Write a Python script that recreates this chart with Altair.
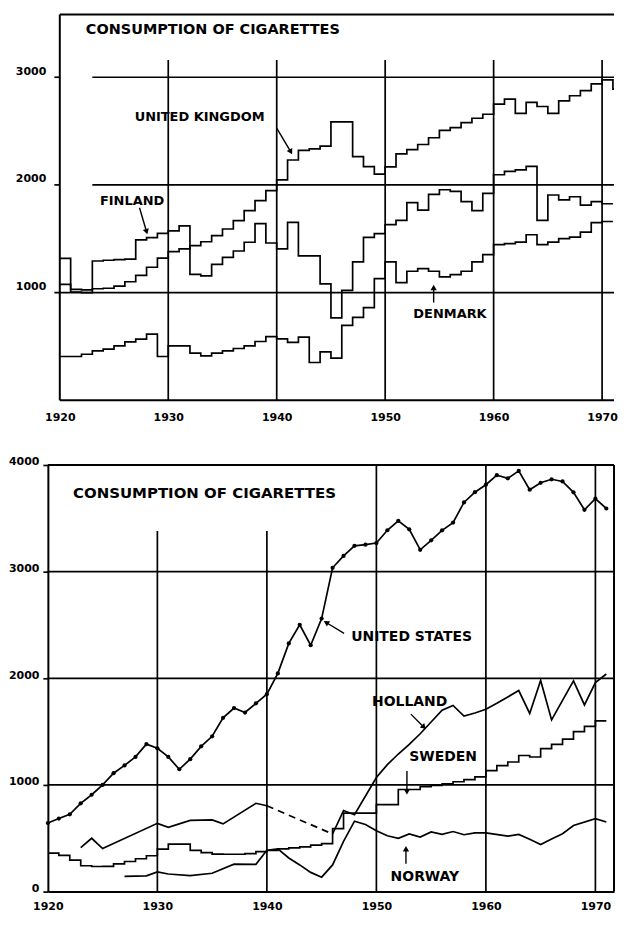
import altair as alt
import pandas as pd

FONT = "DejaVu Sans"
INK = "black"

# ======================= DATA =======================
# Top panel: stepped annual series starting 1920
uk_first_year = 1920
uk_values = [1075, 1005, 1000, 1035, 1040, 1060, 1100, 1160, 1235, 1320,
             1380, 1405, 1435, 1472, 1528, 1590, 1668, 1761, 1854, 1947,
             2046, 2231, 2320, 2335, 2360, 2585, 2585, 2262, 2170, 2100,
             2168, 2288, 2328, 2375, 2438, 2506, 2531, 2578, 2619, 2656,
             2750, 2797, 2665, 2766, 2728, 2665, 2781, 2828, 2875, 2938,
             2975, 2890]
finland_first_year = 1920
finland_values = [1317, 1030, 1025, 1293, 1300, 1305, 1310, 1489, 1511, 1550,
                  1573, 1620, 1168, 1155, 1262, 1327, 1386, 1467, 1640, 1460,
                  1406, 1652, 1340, 1340, 1080, 765, 1020, 1284, 1512, 1547,
                  1630, 1670, 1835, 1765, 1912, 1955, 1940, 1844, 1760, 1922,
                  2094, 2125, 2140, 2172, 1670, 1906, 1860, 1890, 1812, 1844,
                  1825]
denmark_first_year = 1920
denmark_values = [406, 406, 427, 458, 474, 505, 542, 567, 613, 406,
                  505, 505, 437, 412, 437, 458, 480, 505, 545, 590,
                  570, 538, 585, 350, 448, 390, 695, 770, 860, 1130,
                  1284, 1093, 1198, 1222, 1198, 1145, 1167, 1198, 1284, 1352,
                  1445, 1454, 1469, 1537, 1445, 1469, 1500, 1515, 1562, 1650,
                  1660]

# Bottom panel
us_years = list(range(1920, 1972))
us_values = [643, 685, 724, 828, 908, 1000, 1110, 1183, 1263, 1383,
             1344, 1263, 1147, 1242, 1362, 1456, 1629, 1721, 1679, 1765,
             1851, 2046, 2327, 2502, 2310, 2560, 3036, 3147, 3242, 3253,
             3268, 3388, 3477, 3397, 3205, 3294, 3387, 3460, 3649, 3745,
             3815, 3904, 3875, 3945, 3768, 3833, 3866, 3846, 3744, 3580,
             3684, 3592]
holland_years_prewar = [1923, 1924, 1925, 1930, 1931, 1933, 1935, 1936, 1939, 1940]
holland_values_prewar = [412, 500, 404, 640, 603, 668, 672, 635, 828, 805]
holland_years_postwar = [1946, 1947, 1948, 1950, 1951, 1952, 1953, 1954, 1955, 1956,
                         1957, 1958, 1959, 1960, 1961, 1962, 1963, 1964, 1965, 1966,
                         1968, 1969, 1970, 1971]
holland_values_postwar = [540, 760, 720, 1070, 1190, 1290, 1380, 1480, 1590, 1700,
                          1745, 1645, 1675, 1710, 1765, 1825, 1885, 1670, 1980, 1610,
                          1975, 1750, 1960, 2040]
sweden_first_year = 1920
sweden_values = [360, 340, 295, 242, 235, 237, 260, 282, 308, 336,
                 398, 445, 445, 387, 365, 352, 350, 350, 356, 375,
                 385, 400, 410, 420, 435, 450, 590, 735, 735, 735,
                 816, 816, 957, 957, 985, 995, 1010, 1030, 1050, 1075,
                 1134, 1181, 1215, 1276, 1262, 1340, 1380, 1430, 1500, 1550,
                 1600]
norway_years = [1927, 1929, 1930, 1931, 1933, 1935, 1937, 1939,
                1940, 1941, 1942, 1943, 1944, 1945, 1946, 1947, 1948, 1949,
                1950, 1951, 1952, 1953, 1954, 1955, 1956, 1957, 1958, 1959,
                1960, 1962, 1963, 1964, 1965, 1966, 1967, 1968, 1970, 1971]
norway_values = [143, 148, 185, 165, 150, 172, 257, 255,
                 388, 400, 315, 250, 180, 135, 250, 470, 660, 629,
                 570, 524, 500, 541, 512, 560, 537, 563, 533, 550,
                 550, 520, 536, 491, 441, 494, 542, 620, 683, 653]

# Tick labels
x_tick_labels = [1920, 1930, 1940, 1950, 1960, 1970]
top_y_tick_labels = [1000, 2000, 3000]
bottom_y_tick_labels = [0, 1000, 2000, 3000, 4000]

TITLE = "CONSUMPTION OF CIGARETTES"

# Annotations (in data coordinates)
top_text = pd.DataFrame({
    "text": [TITLE, "UNITED KINGDOM", "FINLAND", "DENMARK"],
    "x": [1922.4, 1926.9, 1923.7, 1952.6],
    "y": [3435, 2630, 1852, 796],
    "size": [14.5, 13, 13, 13],
})
top_arrows = pd.DataFrame({
    "x": [1940.0, 1927.35, 1954.47], "y": [2528, 1787, 907],
    "x2": [1941.3, 1928.0, 1954.47], "y2": [2306, 1565, 1046],
    "angle": [151, 164, 0],
})
bottom_text = pd.DataFrame({
    "text": [TITLE, "UNITED STATES", "HOLLAND", "SWEDEN", "NORWAY"],
    "x": [1922.3, 1947.7, 1949.6, 1953.0, 1951.3],
    "y": [3738, 2383, 1776, 1262, 140],
    "size": [15, 14, 14, 14, 14],
})
bottom_arrows = pd.DataFrame({
    "x": [1947.05, 1953.15, 1952.79, 1952.7], "y": [2421, 1664, 1131, 262],
    "x2": [1945.41, 1954.34, 1952.79, 1952.7], "y2": [2523, 1542, 935, 402],
    "angle": [301, 135, 180, 0],
})

# ======================= GEOMETRY =======================
# Both panels share the same plot origin; the upper panel's frame starts a
# little further right, so its x-domain begins slightly before 1920.
TOP_X_MIN, TOP_X_MAX, TOP_Y_MAX = 1918.9, 1971.1, 3583
BOT_X_MIN, BOT_X_MAX, BOT_Y_MAX = 1920, 1971.7, 4000
PANEL_W = 568
TOP_H, BOT_H = 387, 428
LW = 1.7


def step_rows(name, first_year, values):
    years = list(range(first_year, first_year + len(values)))
    rows = [{"series": name, "year": y, "value": v} for y, v in zip(years, values)]
    rows.append({"series": name, "year": years[-1] + 1, "value": values[-1]})
    return rows


def encoders(x_min, x_max, y_max, y_values, framed, y_pad, y_offset, x_pad):
    xs = alt.Scale(domain=[x_min, x_max], nice=False, zero=False)
    ys = alt.Scale(domain=[0, y_max], nice=False, zero=False)
    xa = alt.Axis(values=x_tick_labels, format="d", title=None, grid=False, ticks=False,
                  labelFlush=False, labelPadding=x_pad, labelFont=FONT, labelFontWeight="bold",
                  labelFontSize=11, labelColor=INK, domain=framed,
                  domainColor=INK, domainWidth=2)
    ya = alt.Axis(values=y_values, format="d", title=None, grid=False, ticks=framed,
                  tickSize=5, tickWidth=LW, tickColor=INK, labelPadding=y_pad,
                  labelOffset=y_offset, minExtent=40, labelFont=FONT,
                  labelFontWeight="bold", labelFontSize=11, labelColor=INK,
                  domain=framed, domainColor=INK, domainWidth=2)

    def X(f):
        return alt.X(f, type="quantitative", scale=xs, axis=xa)

    def Y(f):
        return alt.Y(f, type="quantitative", scale=ys, axis=ya)

    return X, Y


def annotation_layers(X, Y, text_df, arrow_df):
    txt = alt.Chart(text_df).mark_text(
        align="left", baseline="middle", font=FONT, fontWeight="bold", color=INK
    ).encode(x=X("x"), y=Y("y"), text="text:N", size=alt.Size("size:Q", scale=None))
    shafts = alt.Chart(arrow_df).mark_rule(color=INK, strokeWidth=1.4).encode(
        x=X("x"), y=Y("y"), x2=alt.X2("x2"), y2=alt.Y2("y2"))
    heads = alt.Chart(arrow_df).mark_point(
        shape="triangle-up", filled=True, color=INK, size=40, opacity=1
    ).encode(x=X("x2"), y=Y("y2"), angle=alt.Angle("angle:Q", scale=None))
    return [txt, shafts, heads]


# ---------------- top panel ----------------
Xt, Yt = encoders(TOP_X_MIN, TOP_X_MAX, TOP_Y_MAX, top_y_tick_labels, False, 2, -6, 11)

top_vgrid = pd.DataFrame({"x": [1920, 1930, 1940, 1950, 1960, 1970],
                          "y0": 0, "y1": [TOP_Y_MAX, 3160, 3160, 3160, 3160, 3160],
                          "w": [2, LW, LW, LW, LW, LW]})
top_hgrid = pd.DataFrame({"y": [0, 1000, 2000, 3000, TOP_Y_MAX, 2000, 3000],
                          "x0": [1920, 1919.5, 1923, 1923, 1920, 1919.5, 1919.5],
                          "x1": [TOP_X_MAX] * 5 + [1920, 1920],
                          "w": [2, LW, LW, LW, 2, LW, LW]})
top_steps = pd.DataFrame(
    step_rows("United Kingdom", uk_first_year, uk_values)
    + step_rows("Finland", finland_first_year, finland_values)
    + step_rows("Denmark", denmark_first_year, denmark_values)
)

top_layers = [
    alt.Chart(top_vgrid).mark_rule(color=INK).encode(
        x=Xt("x"), y=Yt("y0"), y2=alt.Y2("y1"),
        strokeWidth=alt.StrokeWidth("w:Q", scale=None)),
    alt.Chart(top_hgrid).mark_rule(color=INK).encode(
        y=Yt("y"), x=Xt("x0"), x2=alt.X2("x1"),
        strokeWidth=alt.StrokeWidth("w:Q", scale=None)),
    alt.Chart(top_steps).mark_line(
        interpolate="step-after", color=INK, strokeWidth=LW, clip=True
    ).encode(x=Xt("year"), y=Yt("value"), detail="series:N"),
] + annotation_layers(Xt, Yt, top_text, top_arrows)

top = alt.layer(*top_layers).properties(width=PANEL_W, height=TOP_H)

# ---------------- bottom panel ----------------
Xb, Yb = encoders(BOT_X_MIN, BOT_X_MAX, BOT_Y_MAX, bottom_y_tick_labels, True, 4, -3, 9)

bot_vgrid = pd.DataFrame({"x": [1930, 1940, 1950, 1960, 1970, BOT_X_MAX],
                          "y0": 0,
                          "y1": [3380, 3380, BOT_Y_MAX, BOT_Y_MAX, BOT_Y_MAX, BOT_Y_MAX],
                          "w": [LW, LW, LW, LW, LW, 2]})
bot_hgrid = pd.DataFrame({"y": [1000, 2000, 3000, BOT_Y_MAX],
                          "x0": 1920, "x1": BOT_X_MAX,
                          "w": [LW, LW, LW, 2]})

us_df = pd.DataFrame({"year": us_years, "value": us_values})
holland_df = pd.DataFrame(
    [{"part": "a", "year": y, "value": v} for y, v in zip(holland_years_prewar, holland_values_prewar)]
    + [{"part": "b", "year": y, "value": v} for y, v in zip(holland_years_postwar, holland_values_postwar)]
)
holland_gap = pd.DataFrame({
    "year": [holland_years_prewar[-1], holland_years_postwar[0]],
    "value": [holland_values_prewar[-1], holland_values_postwar[0]],
})
sweden_df = pd.DataFrame(step_rows("Sweden", sweden_first_year, sweden_values))
norway_df = pd.DataFrame({"year": norway_years, "value": norway_values})

bot_layers = [
    alt.Chart(bot_vgrid).mark_rule(color=INK).encode(
        x=Xb("x"), y=Yb("y0"), y2=alt.Y2("y1"),
        strokeWidth=alt.StrokeWidth("w:Q", scale=None)),
    alt.Chart(bot_hgrid).mark_rule(color=INK).encode(
        y=Yb("y"), x=Xb("x0"), x2=alt.X2("x1"),
        strokeWidth=alt.StrokeWidth("w:Q", scale=None)),
    alt.Chart(holland_df).mark_line(color=INK, strokeWidth=LW, clip=True).encode(
        x=Xb("year"), y=Yb("value"), detail="part:N"),
    alt.Chart(holland_gap).mark_line(color=INK, strokeWidth=LW, strokeDash=[7, 5]).encode(
        x=Xb("year"), y=Yb("value")),
    alt.Chart(sweden_df).mark_line(
        interpolate="step-after", color=INK, strokeWidth=LW, clip=True
    ).encode(x=Xb("year"), y=Yb("value")),
    alt.Chart(norway_df).mark_line(color=INK, strokeWidth=LW, clip=True).encode(
        x=Xb("year"), y=Yb("value")),
    alt.Chart(us_df).mark_line(color=INK, strokeWidth=LW, clip=True).encode(
        x=Xb("year"), y=Yb("value")),
    alt.Chart(us_df).mark_point(filled=True, color=INK, size=18, opacity=1).encode(
        x=Xb("year"), y=Yb("value")),
] + annotation_layers(Xb, Yb, bottom_text, bottom_arrows)

bottom = alt.layer(*bot_layers).properties(width=PANEL_W, height=BOT_H)

chart = (
    alt.vconcat(top, bottom, spacing=34)
    .properties(padding={"left": 0, "top": 4, "right": 0, "bottom": 0}, background="white")
    .configure_view(stroke=None)
)

chart.save("out.html", embed_options={"renderer": "svg", "actions": False})
